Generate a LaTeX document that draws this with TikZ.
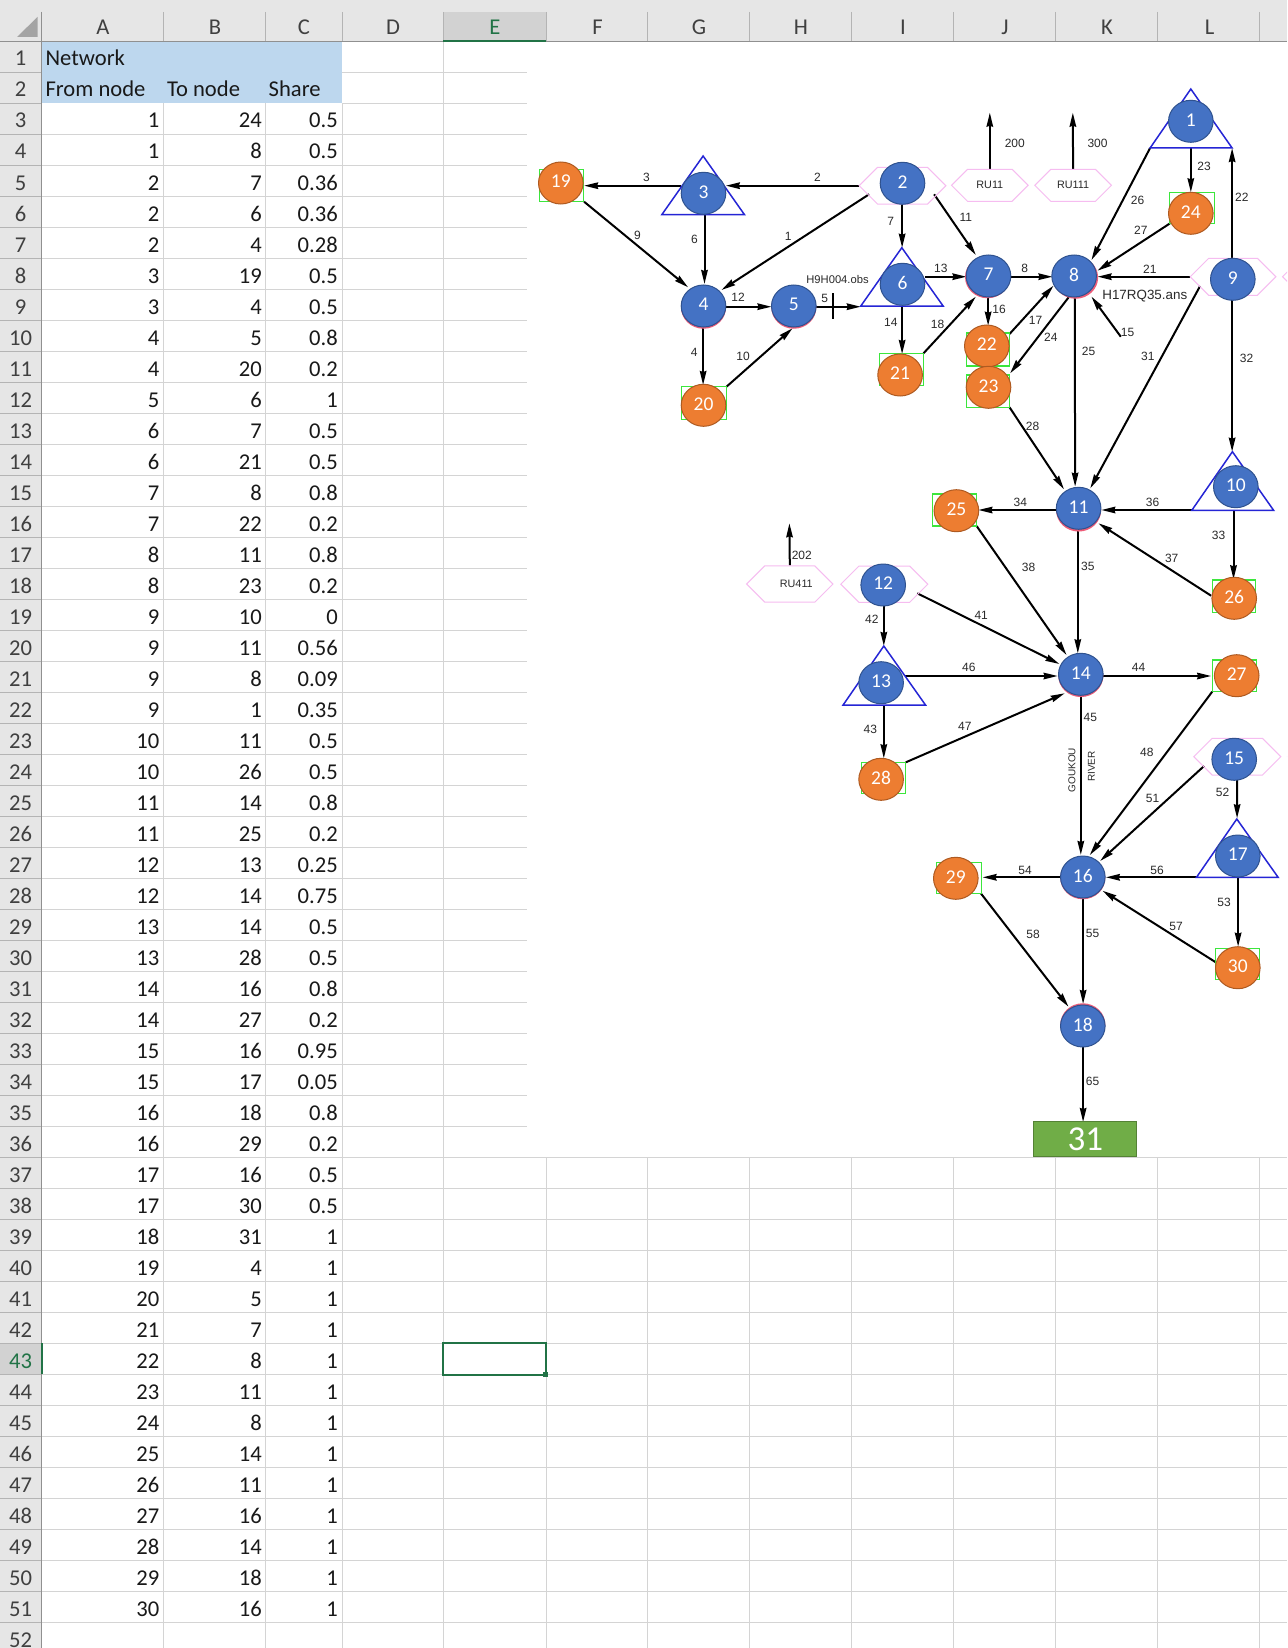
\documentclass[tikz,border=0pt]{standalone}
\usepackage{fontspec}
\setmainfont{Carlito}
\newfontfamily\lblfont{Liberation Sans}
\usetikzlibrary{arrows.meta,shapes.geometric,shapes.symbols}
\pgfdeclarelayer{sheet}
\pgfdeclarelayer{links}
\pgfsetlayers{sheet,links,main}
\definecolor{hdrgray}{HTML}{E6E6E6}
\definecolor{selgray}{HTML}{D2D2D2}
\definecolor{gridc}{HTML}{D4D4D4}
\definecolor{tickc}{HTML}{B4B4B4}
\definecolor{xlgreen}{HTML}{217346}
\definecolor{bandblue}{HTML}{BDD7EE}
\definecolor{nodeblue}{HTML}{4472C4}
\definecolor{nodeblueedge}{HTML}{2F528F}
\definecolor{nodeorange}{HTML}{ED7D31}
\definecolor{nodeorangeedge}{HTML}{AE5A21}
\definecolor{hexpink}{HTML}{F6BCF0}
\definecolor{sqgreen}{HTML}{3CE63C}
\definecolor{triblue}{HTML}{2525D5}
\definecolor{ringred}{HTML}{EE5C78}
\definecolor{outgreen}{HTML}{70AD47}
\definecolor{outgreenedge}{HTML}{548235}
\definecolor{lblgray}{HTML}{2A2A2A}
\tikzset{
  cell/.style={font=\fontsize{22.6}{26}\selectfont,inner sep=0pt,text=black!90},
  numcell/.style={cell,anchor=base east},
  txtcell/.style={cell,anchor=base west},
  rowhead/.style={cell,anchor=base,text=black!75},
  colhead/.style={cell,anchor=base,text=black!75},
  gridline/.style={draw=gridc,line width=1pt},
  circbase/.style={ellipse,minimum width=44.6pt,minimum height=42pt,inner sep=0pt,line width=1pt,text=white,font=\fontsize{19.5}{21}\selectfont},
  bluen/.style={circbase,fill=nodeblue,draw=nodeblueedge},
  orangen/.style={circbase,fill=nodeorange,draw=nodeorangeedge},
  ringn/.style={ellipse,minimum width=45pt,minimum height=42.5pt,inner sep=0pt,fill=ringred},
  hexn/.style={signal,signal to=east and west,draw=hexpink,line width=1pt,inner sep=0pt,font=\lblfont\fontsize{10.8}{12}\selectfont,text=lblgray},
  sqpath/.style={draw=sqgreen,line width=1.2pt},
  tripath/.style={draw=triblue,line width=1.5pt,line join=miter},
  conn/.style={draw=black,line width=2pt,-{Stealth[length=14pt,width=6.5pt,inset=1pt]}},
  crossbar/.style={draw=black,line width=2.2pt},
  edgelbl/.style={font=\lblfont\fontsize{12}{13}\selectfont,text=lblgray,inner sep=0pt},
  obslbl/.style={font=\lblfont\fontsize{11.2}{13}\selectfont,text=lblgray,inner sep=0pt},
  rivlbl/.style={font=\lblfont\fontsize{10}{11}\selectfont,text=lblgray,inner sep=0pt,rotate=90},
  outn/.style={draw=outgreenedge,fill=outgreen,line width=1pt,minimum width=103pt,minimum height=34.7pt,inner sep=0pt,text=white,font=\fontsize{35}{38}\selectfont},
}
\begin{document}
\begin{tikzpicture}[x=1pt,y=-1pt]
\useasboundingbox (0,0) rectangle (1287,1648);
\clip (0,0) rectangle (1287,1648);

% ---------- spreadsheet ----------
\begin{pgfonlayer}{sheet}
\fill[white] (0,0) rectangle (1287,1648);
\fill[hdrgray] (0,0) rectangle (1287,41.3);
\fill[hdrgray] (0,41.3) rectangle (41.5,1648);
\fill[selgray] (443,12) rectangle (546,41.3);
\fill[selgray] (0,1343.3) rectangle (41.5,1374.3);
\fill[bandblue] (41.5,41.3) rectangle (342,103.3);
\fill[tickc!70!gray] (37.5,17) -- (37.5,37) -- (17,37) -- cycle;
% rows
\foreach \rowi in {3,...,35} \draw[gridline] (41.5,{41.3+31*\rowi}) -- (527,{41.3+31*\rowi});
\foreach \rowi in {36,...,52} \draw[gridline] (41.5,{41.3+31*\rowi}) -- (1287,{41.3+31*\rowi});
\foreach \rowi in {1,2} \draw[gridline] (342,{41.3+31*\rowi}) -- (527,{41.3+31*\rowi});
% columns
\foreach \colx in {163,265,342} \draw[gridline] (\colx,103.3) -- (\colx,1648);
\draw[gridline] (443,41.3) -- (443,1648);
\foreach \colx in {546,647,749,851,953,1055,1157,1259} \draw[gridline] (\colx,1157.3) -- (\colx,1648);
% header ticks
\foreach \colx in {41.5,163,265,342,443,546,647,749,851,953,1055,1157,1259} \draw[tickc,line width=1pt] (\colx,12) -- (\colx,41.3);
\foreach \rowi in {1,...,52} \draw[tickc,line width=1pt] (0,{41.3+31*\rowi}) -- (41.5,{41.3+31*\rowi});
\draw[tickc!80!black,line width=1pt] (0,41.3) -- (1287,41.3);
\draw[tickc!80!black,line width=1pt] (41.5,12) -- (41.5,1648);
\draw[xlgreen,line width=2pt] (443,41.3) -- (546,41.3);
\draw[xlgreen,line width=2pt] (41.5,1343.3) -- (41.5,1374.3);
% selected cell
\draw[xlgreen,line width=2pt] (443,1343.3) rectangle (546,1374.5);
\fill[xlgreen] (542.5,1371.5) rectangle (548,1377);
\end{pgfonlayer}

\foreach \cname/\cx in {A/103,B/215,C/304,D/393,F/597.5,G/699,H/801,I/903,J/1005,K/1107,L/1209.5}
  \node[colhead] (col\cname) at (\cx,35) {\cname};
\node[colhead,text=xlgreen] (colE) at (495,35) {E};

\foreach \rowi in {1,...,42,44,45,...,52}
  \node[rowhead] (row\rowi) at (20.5,{35+31*\rowi}) {\rowi};
\node[rowhead,text=xlgreen] (row43) at (20.5,{35+31*43}) {43};

\node[txtcell] (tnet) at (45.4,66) {Network};
\node[txtcell] (tfrom) at (45.4,97) {From node};
\node[txtcell] (tto) at (166.9,97) {To node};
\node[txtcell] (tshare) at (268.5,97) {Share};

\foreach \rowi/\vA/\vB/\vC in {3/1/24/0.5,4/1/8/0.5,5/2/7/0.36,6/2/6/0.36,7/2/4/0.28,8/3/19/0.5,9/3/4/0.5,10/4/5/0.8,11/4/20/0.2,12/5/6/1,13/6/7/0.5,14/6/21/0.5,15/7/8/0.8,16/7/22/0.2,17/8/11/0.8,18/8/23/0.2,19/9/10/0,20/9/11/0.56,21/9/8/0.09,22/9/1/0.35,23/10/11/0.5,24/10/26/0.5,25/11/14/0.8,26/11/25/0.2,27/12/13/0.25,28/12/14/0.75,29/13/14/0.5,30/13/28/0.5,31/14/16/0.8,32/14/27/0.2,33/15/16/0.95,34/15/17/0.05,35/16/18/0.8,36/16/29/0.2,37/17/16/0.5,38/17/30/0.5,39/18/31/1,40/19/4/1,41/20/5/1,42/21/7/1,43/22/8/1,44/23/11/1,45/24/8/1,46/25/14/1,47/26/11/1,48/27/16/1,49/28/14/1,50/29/18/1,51/30/16/1}{
  \node[numcell] (ca\rowi) at (159.5,{35+31*\rowi}) {\vA};
  \node[numcell] (cb\rowi) at (262,{35+31*\rowi}) {\vB};
  \node[numcell] (cc\rowi) at (338,{35+31*\rowi}) {\vC};
}

\begin{scope}[xshift=0.8pt]
% ---------- symbols under the circles ----------
\foreach \xa/\ya/\xb/\yb in {538.3/169.3/582.7/201.7,681/386.7/725.7/419.3,879/353.3/922.7/385.7,966/333/1008.7/366,966/375/1008.7/407.3,1168.7/192.3/1213.3/223.3,931.4/494/975.8/526,1211.4/580/1254.3/612.7,1211.4/660/1255.7/691.7,860.7/762.3/905/793.3,936/862.3/980.7/893.3,1215/948.3/1259/979.3}
  \draw[sqpath] (\xa,\ya) rectangle (\xb,\yb);

\foreach \ax/\ay/\xl/\xr/\by in {1190/89/1149.3/1231.3/148,702.3/156/661/743.7/214.7,901/247.7/860/942.3/306,1231.6/451.7/1191/1272.8/510.3,883/646/842.3/924.7/705,1236/819/1195.7/1277.3/877.3}
  \draw[tripath] (\ax,\ay) -- (\xr,\by) -- (\xl,\by) -- cycle;

\node[hexn,minimum width=86.7pt,minimum height=36.7pt] (h2) at (901.7,185.7) {};
\node[hexn,minimum width=85.7pt,minimum height=37pt] (h9) at (1232.2,276.8) {};
\node[hexn,minimum width=87pt,minimum height=36.3pt] (h12) at (883.5,584.2) {};
\node[hexn,minimum width=87pt,minimum height=36.7pt] (h15) at (1236.5,756.7) {};
\node[hexn,minimum width=86pt,minimum height=37pt] (hx9) at (1324.7,276.7) {};
\node[hexn,minimum width=86pt,minimum height=37pt] (hx15) at (1329.7,756.7) {};
\node[hexn,minimum width=76.6pt,minimum height=32pt] (ru11) at (989,185.3) {RU11};
\node[hexn,minimum width=76.7pt,minimum height=32pt] (ru111) at (1072.3,185.3) {RU111};
\node[hexn,minimum width=86.3pt,minimum height=36.3pt] (ru411) at (789,584) {\hspace*{13pt}RU411};

% ---------- rings and circles ----------
\foreach \i/\x/\y in {4/702.7/307.5,5/793/307.5,7/986.7/277,8/1074.8/277.5,11/1077.8/510.3,14/1080/675.8,16/1082/878,18/1082/1024.5}
  \node[ringn] (ring\i) at (\x,\y) {};

\foreach \i/\x/\y in {1/1190/121.3,2/901.7/183.3,3/702.7/193.3,4/702.7/306,5/793/306,6/901.7/284.3,7/987.7/276,8/1073.3/276,9/1232/279.3,10/1235/486.7,11/1077.8/508.3,12/882.4/585,13/880.3/682.7,14/1080/674.3,15/1233.4/759.3,16/1082/877,17/1237/856,18/1082/1026}
  \node[bluen] (n\i) at (\x,\y) {\raisebox{3pt}{\i}};

\foreach \i/\x/\y in {19/560/183,20/702.7/405.3,21/899.3/375,22/986/346,23/987.7/387.3,24/1190/213.3,25/955.6/510.7,26/1233.4/598.3,27/1235.9/675.7,28/880.3/779.3,29/955/878.3,30/1237/967.7}
  \node[orangen] (n\i) at (\x,\y) {\raisebox{3pt}{\i}};

\node[outn] (n31) at (1084.5,1139.3) {31};

\coordinate (c200) at (989,112.7);
\coordinate (c300) at (1072,112.7);
\coordinate (c202) at (788.6,523.3);
\coordinate (c15) at (1120,336.7);

% ---------- connectors ----------
\begin{pgfonlayer}{links}
\draw[conn] ([shift={(-22.7,-7.6)}]n3.center) -- ([shift={(23.3,2.7)}]n19.center);
\draw[conn] ([shift={(-43.4,2.4)}]n2.center) -- ([shift={(22.3,-7.6)}]n3.center);
\draw[conn] ([shift={(-33.4,11)}]n2.center) -- ([shift={(18,-16)}]n4.center);
\draw[conn] ([shift={(23.3,18.7)}]n19.center) -- ([shift={(-15.4,-18.7)}]n4.center);
\draw[conn] ([shift={(1,21.4)}]n3.center) -- ([shift={(1,-22)}]n4.center);
\draw[conn] ([shift={(-0.4,20.7)}]n2.center) -- ([shift={(-0.4,-36.6)}]n6.center);
\draw[conn] ([shift={(22.3,0.7)}]n4.center) -- ([shift={(-22.3,0.7)}]n5.center);
\draw[conn] ([shift={(22,0.7)}]n5.center) -- ([shift={(-41.7,22.4)}]n6.center);
\draw[conn] ([shift={(-0.4,20.7)}]n4.center) -- ([shift={(-0.4,-20.3)}]n20.center);
\draw[conn] ([shift={(23,-18.6)}]n20.center) -- ([shift={(-1.3,22.3)}]n5.center);
\draw[conn] ([shift={(-0.4,21.7)}]n6.center) -- ([shift={(2,-21)}]n21.center);
\draw[conn] ([shift={(31.6,11)}]n2.center) -- ([shift={(-12.7,-21)}]n7.center);
\draw[conn] ([shift={(22.3,-7.6)}]n6.center) -- ([shift={(-22,0.7)}]n7.center);
\draw[conn] ([shift={(21.6,0.7)}]n7.center) -- ([shift={(-21.6,0.7)}]n8.center);
\draw[conn] ([shift={(23.4,-21.7)}]n21.center) -- ([shift={(-12.7,20.7)}]n7.center);
\draw[conn] ([shift={(-0.4,20.7)}]n7.center) -- ([shift={(1.3,-20.3)}]n22.center);
\draw[conn] ([shift={(22.7,-12)}]n22.center) -- ([shift={(-20.6,9.7)}]n8.center);
\draw[conn] ([shift={(-5,20.7)}]n8.center) -- ([shift={(21.6,-14)}]n23.center);
\draw[conn] ([shift={(0.7,20.7)}]n8.center) -- ([shift={(-3.5,-21.6)}]n11.center);
\draw[conn] ([shift={(-40.7,26.7)}]n1.center) -- ([shift={(17.4,-16)}]n8.center);
\draw[conn] ([shift={(0,26.7)}]n1.center) -- ([shift={(0,-21)}]n24.center);
\draw[conn] ([shift={(-20.7,10)}]n24.center) -- ([shift={(23.4,-5.3)}]n8.center);
\draw[conn] ([shift={(-0.7,-21)}]n9.center) -- ([shift={(41.3,26.7)}]n1.center);
\draw[conn] ([shift={(-42.7,-2.6)}]n9.center) -- ([shift={(23.4,0.7)}]n8.center);
\draw[conn] (c15) -- ([shift={(17.4,20.7)}]n8.center);
\draw[conn] ([shift={(-32.7,6.7)}]n9.center) -- ([shift={(11.7,-20)}]n11.center);
\draw[conn] ([shift={(-0.7,20.7)}]n9.center) -- ([shift={(-3.7,-35)}]n10.center);
\draw[conn] ([shift={(21,20)}]n23.center) -- ([shift={(-14.6,-19)}]n11.center);
\draw[conn] ([shift={(-22,1.7)}]n11.center) -- ([shift={(22,-0.7)}]n25.center);
\draw[conn] ([shift={(-44,23.3)}]n10.center) -- ([shift={(22.7,1.7)}]n11.center);
\draw[conn] ([shift={(-2.3,23.6)}]n10.center) -- ([shift={(-0.7,-19)}]n26.center);
\draw[conn] ([shift={(-23.1,-2.6)}]n26.center) -- ([shift={(19.9,15)}]n11.center);
\draw[conn] ([shift={(-0.8,22.4)}]n11.center) -- ([shift={(-3,-21)}]n14.center);
\draw[conn] ([shift={(20.2,15.3)}]n25.center) -- ([shift={(-14.3,-19.3)}]n14.center);
\draw[conn] ([shift={(34.1,8.3)}]n12.center) -- ([shift={(-21.4,-10.3)}]n14.center);
\draw[conn] ([shift={(0.6,20.7)}]n12.center) -- ([shift={(2.7,-36.7)}]n13.center);
\draw[conn] ([shift={(23.7,-6.7)}]n13.center) -- ([shift={(-23.2,1.7)}]n14.center);
\draw[conn] ([shift={(22.3,1.7)}]n14.center) -- ([shift={(-25.6,0.3)}]n27.center);
\draw[conn] ([shift={(2.7,22.3)}]n13.center) -- ([shift={(2.7,-21)}]n28.center);
\draw[conn] ([shift={(24.7,-17)}]n28.center) -- ([shift={(-16.1,19)}]n14.center);
\draw[conn] ([shift={(0,22.4)}]n14.center) -- ([shift={(-2,-22)}]n16.center);
\draw[conn] ([shift={(-24.5,16)}]n27.center) -- ([shift={(7,-22)}]n16.center);
\draw[conn] ([shift={(-30.1,6.7)}]n15.center) -- ([shift={(17.3,-16)}]n16.center);
\draw[conn] ([shift={(2.9,20.7)}]n15.center) -- ([shift={(-0.7,-37.7)}]n17.center);
\draw[conn] ([shift={(-41.3,21.3)}]n17.center) -- ([shift={(23,0.3)}]n16.center);
\draw[conn] ([shift={(0.3,21.3)}]n17.center) -- ([shift={(0.3,-21)}]n30.center);
\draw[conn] ([shift={(-22,-5.4)}]n30.center) -- ([shift={(19.7,13.7)}]n16.center);
\draw[conn] ([shift={(-22.7,0.3)}]n16.center) -- ([shift={(26.7,-1)}]n29.center);
\draw[conn] ([shift={(0.3,21.3)}]n16.center) -- ([shift={(0.3,-22)}]n18.center);
\draw[conn] ([shift={(25,15)}]n29.center) -- ([shift={(-14.3,-19.3)}]n18.center);
\draw[conn] ([shift={(0.3,21.3)}]n18.center) -- ([shift={(-2.2,-17.3)}]n31.center);
\draw[conn] (ru11.north) -- (c200);
\draw[conn] (ru111.north) -- (c300);
\draw[conn] (ru411.north) -- (c202);
\draw[crossbar] ([shift={(39,-12.7)}]n5.center) -- ([shift={(39,13.3)}]n5.center);
\end{pgfonlayer}

% ---------- connector labels ----------
\foreach \t/\x/\y in {1/787.3/236.7,2/816.7/177.3,3/645.7/177.3,4/693.3/352.3,5/824/298.3,6/693.7/239.3,7/890/221,8/1024/268.3,9/636.7/235.3,10/742.3/356,11/965/217.7,12/737.3/297.3,13/940/268.3,14/890/322.7,15/1126.7/332.3,16/998.3/309,17/1034.7/320.7,18/936.7/324.3,21/1149/269,22/1241/197.3,23/1203.3/166,24/1050/337.3,25/1087.7/351.7,26/1136.7/200,27/1140/230.7,28/1031.7/426,31/1147/356,32/1245.7/358.7,33/1217.7/535,34/1019.5/502,35/1087/566.7,36/1151.7/502,37/1170.9/558.3,38/1027.7/567,41/980.4/615.7,42/871/619,43/869.6/729.3,44/1137.8/667.7,45/1089.5/717.3,46/968/667.7,47/964/726.7,48/1146/752.7,51/1151.7/798.3,52/1221.7/792.7,53/1223.3/902.7,54/1024.3/870,55/1091.7/933.7,56/1156.3/870,57/1175.3/926,58/1032.3/934.7,65/1091.7/1081.7,200/1014/143.3,300/1096.7/143.3,202/801/555}
  \node[edgelbl] (lbl\t) at (\x,\y) {\t};

\node[obslbl] (obs1) at (836.7,279) {H9H004.obs};
\node[obslbl,font=\lblfont\fontsize{13.4}{15}\selectfont] (obs2) at (1144,296) {H17RQ35.ans};
\node[rivlbl] (riv1) at (1071,770) {GOUKOU};
\node[rivlbl] (riv2) at (1090.7,766.7) {RIVER};
\end{scope}
\end{tikzpicture}
\end{document}
